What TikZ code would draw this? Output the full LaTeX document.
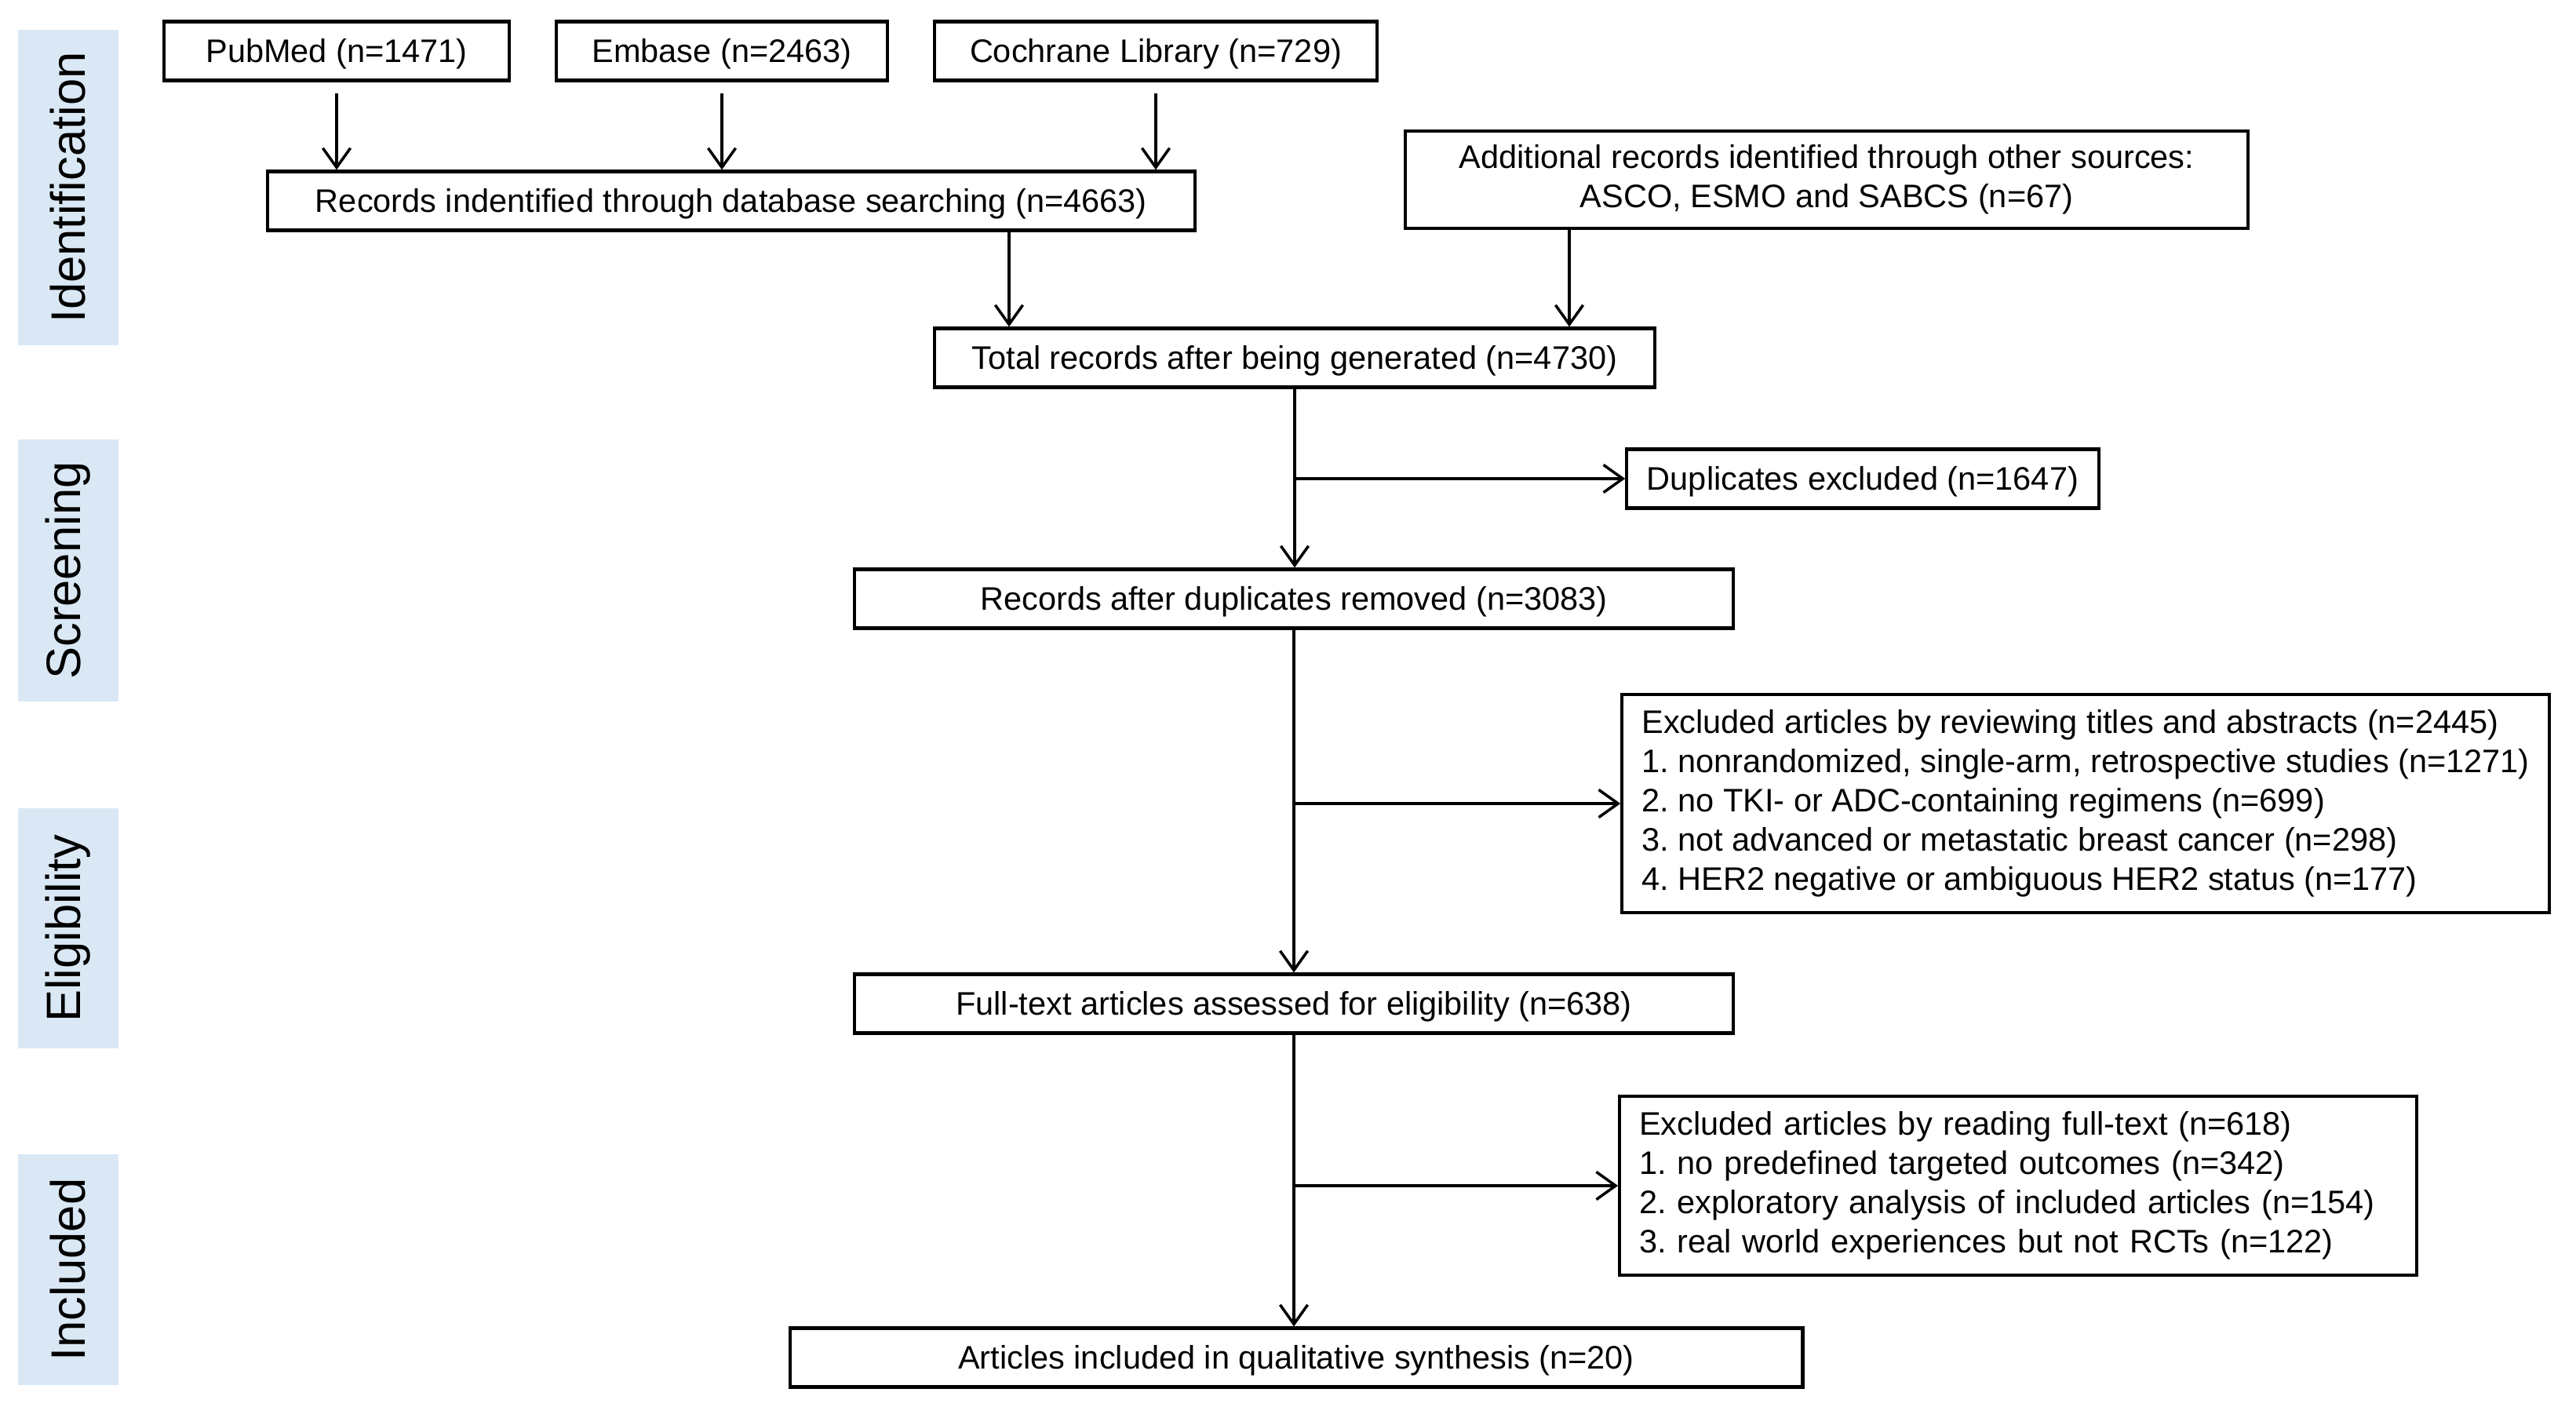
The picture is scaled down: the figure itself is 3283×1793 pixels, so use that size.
\documentclass[tikz,border=0pt]{standalone}
\usepackage{fontspec}
\setmainfont{Liberation Sans}
\usepackage{xcolor}
\usetikzlibrary{arrows.meta}
\definecolor{bandblue}{RGB}{218,232,245}
\frenchspacing

\begin{document}
\begin{tikzpicture}[x=0.01cm,y=-0.01cm]
\tikzset{>={Straight Barb[length=7pt,width=10pt]}}
\tikzstyle{frame} =[draw, line width=1.2pt, inner sep=0pt, minimum height=0.75cm, font=\fontsize{11.8}{14.2}\selectfont]
\tikzstyle{box} =[frame, text height=10.2pt, text depth=2pt]
\tikzstyle{exbox} =[frame, align=left, inner xsep=0.25cm]
\tikzstyle{band} =[fill=bandblue, rotate=90, minimum height=1.28cm, inner sep=0pt, font=\fontsize{17.5}{20}\selectfont]
\tikzstyle{arr} =[->, line width=1pt]

\useasboundingbox (0,0) rectangle (3283,1793);

% stage bands
\node[band, minimum width=4.02cm](bandid) at (87,239){Identification};
\node[band, minimum width=3.33cm](bandscr) at (87,727){Screening};
\node[band, minimum width=3.06cm](bandelig) at (87,1183){Eligibility};
\node[band, minimum width=2.93cm](bandincl) at (87,1618){Included};

% boxes
\node[box, minimum width=4.40cm](pubmed) at (429,65){PubMed (n=1471)};
\node[box, minimum width=4.21cm](embase) at (920,65){Embase (n=2463)};
\node[box, minimum width=5.64cm](cochrane) at (1473,65){Cochrane Library (n=729)};
\node[box, minimum width=11.81cm](recs) at (932,256){Records indentified through database searching (n=4663)};
\node[frame, minimum width=10.73cm, minimum height=1.24cm, align=center](other) at (2328,229){Additional records identified through other sources:\\ASCO, ESMO and SABCS (n=67)};
\node[box, minimum width=9.18cm](total) at (1650,456){Total records after being generated (n=4730)};
\node[box, minimum width=6.01cm](dupl) at (2374,610){Duplicates excluded (n=1647)};
\node[box, minimum width=11.20cm](dedup) at (1649,763){Records after duplicates removed (n=3083)};
\node[exbox, minimum height=2.78cm](exabs) at (2658,1024){Excluded articles by reviewing titles and abstracts (n=2445)\\
1. nonrandomized, single-arm, retrospective studies (n=1271)\\
2. no TKI- or ADC-containing regimens (n=699)\\
3. not advanced or metastatic breast cancer (n=298)\\
4. HER2 negative or ambiguous HER2 status (n=177)};
\node[box, minimum width=11.20cm](fulltext) at (1649,1279){Full-text articles assessed for eligibility (n=638)};
\node[exbox, text width=9.65cm, minimum height=2.28cm](exfull) at (2572,1511){Excluded articles by reading full-text (n=618)\\
1. no predefined targeted outcomes (n=342)\\
2. exploratory analysis of included articles (n=154)\\
3. real world experiences but not RCTs (n=122)};
\node[box, minimum width=12.90cm](synth) at (1652,1730){Articles included in qualitative synthesis (n=20)};

% connectors
\draw[arr, shorten <=4pt] (pubmed) -- (pubmed |- recs.north);
\draw[arr, shorten <=4pt] (embase) -- (embase |- recs.north);
\draw[arr, shorten <=4pt] (cochrane) -- (cochrane |- recs.north);
\draw[arr] (recs.south -| 1286,0) -- (total.north -| 1286,0);
\draw[arr] (other.south -| 2000,0) -- (total.north -| 2000,0);
\draw[arr] (total.south) -- (total.south |- dedup.north);
\draw[arr] (total.south |- dupl.west) -- (dupl.west);
\draw[arr] (dedup.south) -- (dedup.south |- fulltext.north);
\draw[arr] (dedup.south |- exabs.west) -- (exabs.west);
\draw[arr] (fulltext.south) -- (fulltext.south |- synth.north);
\draw[arr] (fulltext.south |- exfull.west) -- (exfull.west);
\end{tikzpicture}
\end{document}
